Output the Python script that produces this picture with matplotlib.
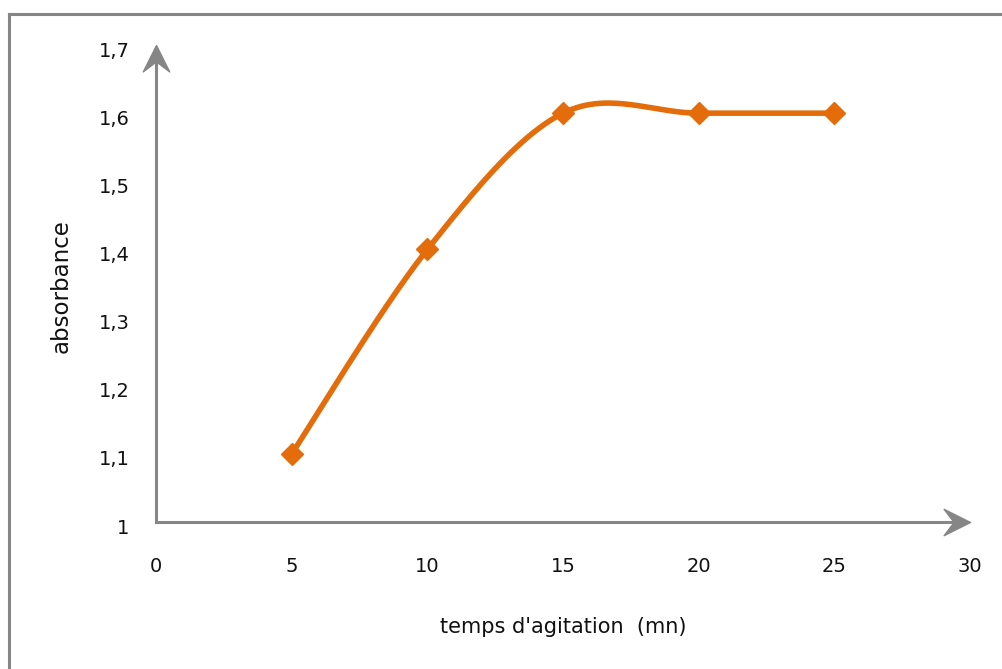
import matplotlib
matplotlib.use("Agg")
import matplotlib.pyplot as plt
import matplotlib.transforms as mtransforms
import numpy as np
from matplotlib.lines import Line2D
from matplotlib.path import Path

# 全局字体
plt.rcParams["font.family"] = ["DejaVu Sans"]

# 数据
temps = [5, 10, 15, 20, 25]
absorbance = [1.1, 1.4, 1.6, 1.6, 1.6]
x_ticks = [0, 5, 10, 15, 20, 25, 30]
y_ticks = [1.0, 1.1, 1.2, 1.3, 1.4, 1.5, 1.6, 1.7]
y_tick_labels = ["1", "1,1", "1,2", "1,3", "1,4", "1,5", "1,6", "1,7"]

ORANGE = "#E46C0A"
GRAY = "#868686"


def smooth_curve(xs, ys, n=60):
    # 平滑折线：Catmull-Rom 形式的三次贝塞尔曲线
    p = np.column_stack([xs, ys]).astype(float)
    pts = [p[0]]
    for i in range(len(p) - 1):
        p0 = p[i - 1] if i > 0 else p[i]
        p3 = p[i + 2] if i + 2 < len(p) else p[i + 1]
        c1 = p[i] + (p[i + 1] - p0) / 6
        c2 = p[i + 1] - (p3 - p[i]) / 6
        t = np.linspace(0, 1, n)[1:, None]
        seg = ((1 - t) ** 3) * p[i] + 3 * ((1 - t) ** 2) * t * c1 \
            + 3 * (1 - t) * t ** 2 * c2 + t ** 3 * p[i + 1]
        pts.extend(seg)
    pts = np.array(pts)
    return pts[:, 0], pts[:, 1]


def arrow_head(angle):
    # 带缺口的箭头标记，尖端位于原点
    verts = np.array([(0, 0), (-1, 0.5), (-0.62, 0), (-1, -0.5), (0, 0)])
    rot = mtransforms.Affine2D().rotate_deg(angle)
    verts = rot.transform(verts)
    codes = [Path.MOVETO, Path.LINETO, Path.LINETO, Path.LINETO, Path.CLOSEPOLY]
    return Path(verts, codes)


fig = plt.figure(figsize=(10.02, 6.69), dpi=100)
ax = fig.add_axes([0.1557, 0.2197, 0.8124, 0.7130])

# 外框（左、上）
fig.add_artist(Line2D([0.0085, 0.0085], [0, 0.9795], transform=fig.transFigure,
                      color=GRAY, lw=2.2))
fig.add_artist(Line2D([0.0085, 1.0], [0.9795, 0.9795], transform=fig.transFigure,
                      color=GRAY, lw=2.2))

sx, sy = smooth_curve(temps, absorbance)
ax.plot(sx, sy, color=ORANGE, lw=4.0, solid_capstyle="round", zorder=3)
ax.plot(temps, absorbance, linestyle="none", marker="D", markersize=11,
        color=ORANGE, zorder=4)

ax.set_xlim(0, 30)
ax.set_ylim(1.0, 1.7)
ax.set_xticks(x_ticks)
ax.set_xticklabels([str(v) for v in x_ticks])
ax.set_yticks(y_ticks)
ax.set_yticklabels(y_tick_labels)
ax.tick_params(axis="both", length=0, labelsize=14, colors="#111111")
ax.tick_params(axis="x", pad=25)
ax.tick_params(axis="y", pad=19)
shift = mtransforms.ScaledTranslation(0, -4 / 100, fig.dpi_scale_trans)
for lab in ax.get_yticklabels():
    lab.set_transform(lab.get_transform() + shift)

for s in ax.spines.values():
    s.set_visible(False)

# 带箭头的坐标轴
ax.plot([0, 0], [0, 0.97], transform=ax.transAxes, color=GRAY, lw=2.2,
        clip_on=False, zorder=2)
ax.plot([0, 0.98], [0, 0], transform=ax.transAxes, color=GRAY, lw=2.2,
        clip_on=False, zorder=2)
ax.plot([0], [1], transform=ax.transAxes, marker=arrow_head(90), markersize=38,
        color=GRAY, clip_on=False, zorder=2)
ax.plot([1], [0], transform=ax.transAxes, marker=arrow_head(0), markersize=38,
        color=GRAY, clip_on=False, zorder=2)

# 坐标轴标题
fig.text(563 / 1002, 1 - 627 / 669, "temps d'agitation  (mn)", fontsize=15,
         color="#111111", ha="center", va="center")
fig.text(61 / 1002, 1 - 286 / 669, "absorbance", fontsize=16.5, rotation=90,
         color="#111111", ha="center", va="center")

fig.savefig("out.png", dpi=100)
plt.close(fig)
